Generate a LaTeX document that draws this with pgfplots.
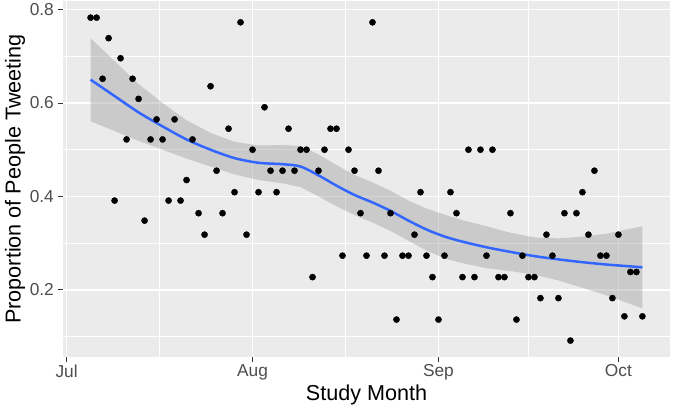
\documentclass[border=0pt]{standalone}
\usepackage{fontspec}
\setmainfont{Liberation Sans}
\usepackage{pgfplots}
\pgfplotsset{compat=1.18}
\definecolor{ggbg}{HTML}{EBEBEB}
\definecolor{ggtext}{HTML}{4D4D4D}
\definecolor{ggtick}{HTML}{333333}
\definecolor{ggblue}{HTML}{3366FF}
\definecolor{ggribbon}{HTML}{999999}
\newcommand{\tickfont}{\fontsize{17.3bp}{20bp}\selectfont}
\newcommand{\titlefont}{\fontsize{21.6bp}{24bp}\selectfont}
\begin{document}
\begin{tikzpicture}
\begin{axis}[
    scale only axis,
    width=607bp, height=355.4bp,
    xmin=-0.6, xmax=100.6,
    ymin=0.0565, ymax=0.818,
    axis background/.style={fill=ggbg},
    axis line style={draw=none},
    xtick={0,31,62,92},
    xticklabels={Jul,Aug,Sep,Oct},
    minor xtick={15.5,46.5,77},
    ytick={0.2,0.4,0.6,0.8},
    yticklabels={0.2,0.4,0.6,0.8},
    minor ytick={0.1,0.3,0.5,0.7},
    xtick pos=bottom, ytick pos=left,
    tick align=outside,
    major tick length=5bp, minor tick length=0pt,
    tick style={color=ggtick, line width=1bp},
    grid=both,
    major grid style={white, line width=1.6bp},
    minor grid style={white, line width=0.8bp},
    yticklabel style={font=\tickfont, text=ggtext, inner sep=0pt, xshift=-4bp},
    xticklabel style={font=\tickfont, text=ggtext, inner sep=0pt, yshift=-3bp},
    xlabel={Study Month},
    ylabel={Proportion of People Tweeting},
    every axis x label/.style={at={(axis description cs:0.5,0)}, anchor=base, yshift=-44bp,
        font=\titlefont},
    every axis y label/.style={at={(axis description cs:0,0.5)}, xshift=-48bp, rotate=90, anchor=center,
        font=\titlefont},
]
% daily proportions
\addplot[only marks, mark=*, mark size=3.1bp, mark options={fill=black, draw=black}] coordinates {
(4,0.783)(5,0.783)(6,0.652)(7,0.739)(8,0.391)(9,0.696)(10,0.522)(11,0.652)
(12,0.609)(13,0.348)(14,0.522)(15,0.565)(16,0.522)(17,0.391)(18,0.565)(19,0.391)
(20,0.435)(21,0.522)(22,0.364)(23,0.318)(24,0.636)(25,0.455)(26,0.364)(27,0.545)
(28,0.409)(29,0.773)(30,0.318)(31,0.500)(32,0.409)(33,0.591)(34,0.455)(35,0.409)
(36,0.455)(37,0.545)(38,0.455)(39,0.500)(40,0.500)(41,0.227)(42,0.455)(43,0.500)
(44,0.545)(45,0.545)(46,0.273)(47,0.500)(48,0.455)(49,0.364)(50,0.273)(51,0.773)
(52,0.455)(53,0.273)(54,0.364)(55,0.136)(56,0.273)(57,0.273)(58,0.318)(59,0.409)
(60,0.273)(61,0.227)(62,0.136)(63,0.273)(64,0.409)(65,0.364)(66,0.227)(67,0.500)
(68,0.227)(69,0.500)(70,0.273)(71,0.500)(72,0.227)(73,0.227)(74,0.364)(75,0.136)
(76,0.273)(77,0.227)(78,0.227)(79,0.182)(80,0.318)(81,0.273)(82,0.182)(83,0.364)
(84,0.091)(85,0.364)(86,0.409)(87,0.318)(88,0.455)(89,0.273)(90,0.273)(91,0.182)
(92,0.318)(93,0.143)(94,0.238)(95,0.238)(96,0.143)
};
% confidence band
\addplot[draw=none, fill=ggribbon, fill opacity=0.4] coordinates {
(4,0.739)(8,0.690)(12,0.641)(16,0.600)(20,0.563)(24,0.536)(28,0.517)(32,0.509)
(36,0.510)(39,0.508)(42,0.490)(45,0.467)(48,0.446)(51,0.430)(54,0.412)(57,0.391)
(60,0.374)(63,0.361)(66,0.349)(70,0.336)(74,0.322)(78,0.312)(82,0.310)(86,0.314)
(90,0.320)(93,0.328)(96,0.336)
(96,0.160)(93,0.174)(90,0.188)(86,0.204)(82,0.220)(78,0.232)(74,0.240)(70,0.246)
(66,0.257)(63,0.267)(60,0.284)(57,0.305)(54,0.326)(51,0.344)(48,0.360)(45,0.379)
(42,0.400)(39,0.420)(36,0.428)(32,0.435)(28,0.447)(24,0.464)(20,0.481)(16,0.500)
(12,0.519)(8,0.540)(4,0.561)
} -- cycle;
% loess fit
\addplot[ggblue, line width=2.5bp, smooth] coordinates {
(4,0.650)(8,0.615)(12,0.580)(16,0.550)(20,0.522)(24,0.500)(28,0.482)(32,0.472)
(36,0.469)(39,0.464)(42,0.445)(45,0.423)(48,0.403)(51,0.387)(54,0.369)(57,0.348)
(60,0.329)(63,0.314)(66,0.303)(70,0.291)(74,0.281)(78,0.272)(82,0.265)(86,0.259)
(90,0.254)(93,0.251)(96,0.248)
};
\end{axis}
\pgfresetboundingbox
\useasboundingbox ([xshift=-63bp,yshift=-55.3bp]current axis.south west) rectangle ([xshift=3bp,yshift=1.3bp]current axis.north east);
\end{tikzpicture}
\end{document}
